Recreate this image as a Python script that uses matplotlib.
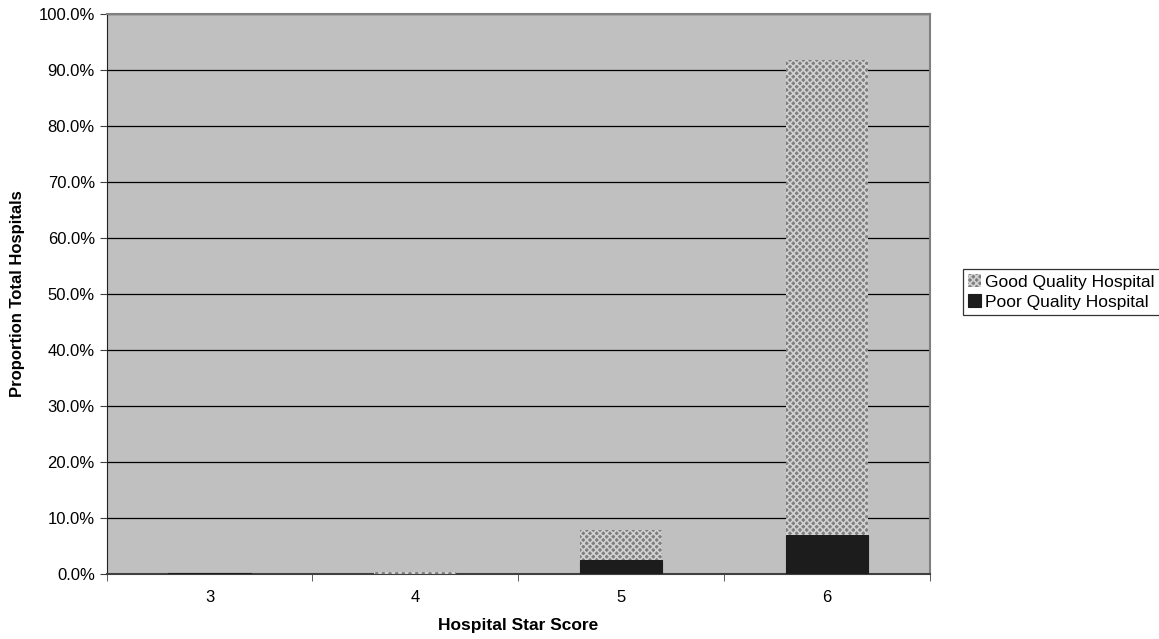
import matplotlib

matplotlib.use("Agg")

import matplotlib.pyplot as plt  # noqa: E402
import numpy as np  # noqa: E402
from matplotlib.ticker import FuncFormatter, MultipleLocator  # noqa: E402

# Proportion of total hospitals (%) by star score, split by quality.
star_scores = ["3", "4", "5", "6"]
poor_quality = [0.1, 0.0, 2.4, 6.9]
good_quality = [0.0, 0.4, 5.4, 84.9]

plt.rcParams["font.family"] = ["Liberation Sans", "DejaVu Sans"]
plt.rcParams["hatch.linewidth"] = 1.2

fig = plt.figure(figsize=(11.59, 6.39), dpi=100)
ax = fig.add_axes([0.092, 0.102, 0.71, 0.876])
ax.set_facecolor("#c0c0c0")

x = np.arange(len(star_scores))
width = 0.4
ax.bar(x, poor_quality, width, color="#1c1c1c", edgecolor="#1c1c1c",
       linewidth=0.8, label="Poor Quality Hospital", zorder=3)
ax.bar(x, good_quality, width, bottom=poor_quality, color="#7e7e7e",
       edgecolor="#d0d0d0", hatch="xxxxx", linewidth=0,
       label="Good Quality Hospital", zorder=3)

ax.set_xlim(-0.5, len(star_scores) - 0.5)
ax.set_ylim(0, 100)
ax.set_xticks(x)
ax.set_xticklabels(star_scores)
ax.set_xticks(np.arange(len(star_scores) + 1) - 0.5, minor=True)
ax.tick_params(axis="x", which="major", length=0, pad=12, labelsize=12)
ax.tick_params(axis="x", which="minor", length=5, color="#404040")
ax.yaxis.set_major_locator(MultipleLocator(10))
ax.yaxis.set_major_formatter(FuncFormatter(lambda v, _: f"{v:.1f}%"))
ax.tick_params(axis="y", length=5, labelsize=12, color="#404040")
ax.grid(axis="y", color="black", linewidth=0.9, zorder=1)
ax.set_axisbelow(True)

for side in ("top", "right"):
    ax.spines[side].set_color("#808080")
    ax.spines[side].set_linewidth(1.5)
ax.spines["left"].set_color("#202020")
ax.spines["bottom"].set_color("#404040")
ax.spines["bottom"].set_linewidth(1.5)

ax.set_xlabel("Hospital Star Score", fontsize=12.5, fontweight="bold", labelpad=9)
ax.set_ylabel("Proportion Total Hospitals", fontsize=12, fontweight="bold", labelpad=10)

handles, labels = ax.get_legend_handles_labels()
leg = fig.legend(handles[::-1], labels[::-1], loc="center left",
                 bbox_to_anchor=(0.831, 0.543), fontsize=12.5, frameon=True,
                 fancybox=False, handlelength=0.75, handleheight=0.75,
                 handletextpad=0.2, borderpad=0.3, labelspacing=0.25,
                 borderaxespad=0)
leg.get_frame().set_edgecolor("black")
leg.get_frame().set_linewidth(0.9)

fig.savefig("out.png", dpi=100)
